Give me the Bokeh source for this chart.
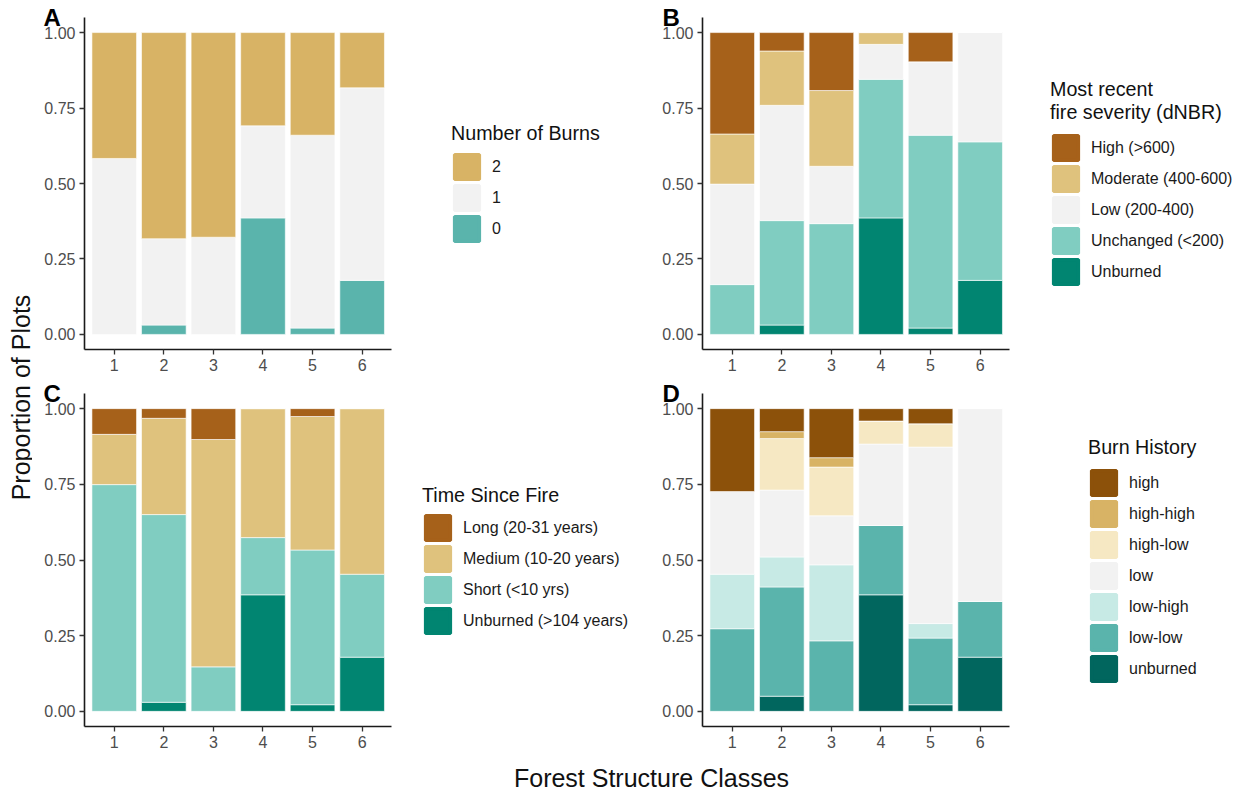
from bokeh.plotting import figure
from bokeh.models import (ColumnDataSource, Range1d, FixedTicker, PrintfTickFormatter,
                          Legend, LegendItem, Label)
from bokeh.core.properties import value
from bokeh.layouts import row, column
from bokeh.embed import file_html
from bokeh.resources import INLINE
import math

FONT = "Liberation Sans"

# Forest structure classes (x categories)
classes = [1, 2, 3, 4, 5, 6]

# A: number of burns (proportion of plots per class)
burns_labels = ["0", "1", "2"]
burns_0 = [0.000, 0.031, 0.000, 0.386, 0.021, 0.179]
burns_1 = [0.583, 0.286, 0.322, 0.305, 0.639, 0.638]
burns_2 = [0.417, 0.683, 0.678, 0.309, 0.340, 0.183]
burns_colors = ["#5AB4AC", "#F2F2F2", "#D8B365"]

# B: most recent fire severity (dNBR)
sev_labels = ["Unburned", "Unchanged (<200)", "Low (200-400)", "Moderate (400-600)", "High (>600)"]
sev_unburned = [0.000, 0.031, 0.000, 0.386, 0.021, 0.179]
sev_unchanged = [0.165, 0.346, 0.367, 0.459, 0.639, 0.459]
sev_low = [0.333, 0.382, 0.190, 0.116, 0.243, 0.362]
sev_moderate = [0.166, 0.180, 0.251, 0.039, 0.000, 0.000]
sev_high = [0.336, 0.061, 0.192, 0.000, 0.097, 0.000]
sev_colors = ["#018571", "#80CDC1", "#F2F2F2", "#DFC27D", "#A6611A"]

# C: time since fire
tsf_labels = ["Unburned (>104 years)", "Short (<10 yrs)", "Medium (10-20 years)", "Long (20-31 years)"]
tsf_unburned = [0.000, 0.030, 0.000, 0.385, 0.022, 0.179]
tsf_short = [0.749, 0.620, 0.147, 0.189, 0.511, 0.274]
tsf_medium = [0.166, 0.318, 0.751, 0.426, 0.441, 0.547]
tsf_long = [0.085, 0.032, 0.102, 0.000, 0.026, 0.000]
tsf_colors = ["#018571", "#80CDC1", "#DFC27D", "#A6611A"]

# D: burn history
bh_labels = ["unburned", "low-low", "low-high", "low", "high-low", "high-high", "high"]
bh_unburned = [0.000, 0.050, 0.000, 0.385, 0.022, 0.179]
bh_low_low = [0.273, 0.361, 0.233, 0.229, 0.220, 0.184]
bh_low_high = [0.180, 0.099, 0.251, 0.000, 0.048, 0.000]
bh_low = [0.273, 0.221, 0.162, 0.269, 0.583, 0.637]
bh_high_low = [0.000, 0.170, 0.161, 0.076, 0.077, 0.000]
bh_high_high = [0.000, 0.023, 0.031, 0.000, 0.000, 0.000]
bh_high = [0.274, 0.076, 0.162, 0.041, 0.050, 0.000]
bh_colors = ["#01665E", "#5AB4AC", "#C7EAE5", "#F2F2F2", "#F6E8C3", "#D8B365", "#8C510A"]

y_ticks = [0, 0.25, 0.5, 0.75, 1.0]
X_LO, X_HI = 0.4, 6.6      # visible extent of the class axis
Y_LO, Y_HI = -0.05, 1.05
BAR_AREA_PX = 307.4        # pixel width of the bar area of each panel


def make_panel(tag, tag_offset, labels, series, colors, legend_title, legend_xy, title_gap,
               width, height, left, top, bottom):
    # the frame runs to the right edge so the legend can sit inside it;
    # the x range is widened to keep the bar area at BAR_AREA_PX
    frame_w = width - left
    x_end = X_LO + (X_HI - X_LO) * frame_w / BAR_AREA_PX
    p = figure(width=width, height=height,
               x_range=Range1d(X_LO, x_end), y_range=Range1d(Y_LO, Y_HI),
               output_backend="svg", toolbar_location=None,
               min_border_left=left, min_border_right=0,
               min_border_top=top, min_border_bottom=bottom)
    p.outline_line_color = None
    p.background_fill_color = "white"
    p.border_fill_color = "white"
    p.grid.visible = False

    keys = ["s%d" % i for i in range(len(series))]
    data = {"x": classes}
    for k, v in zip(keys, series):
        data[k] = v
    src = ColumnDataSource(data)
    p.vbar_stack(keys, x="x", width=0.9, source=src,
                 fill_color=colors, line_color="white", line_width=0.6)

    for ax in (p.xaxis[0], p.yaxis[0]):
        ax.axis_line_color = "#1a1a1a"
        ax.axis_line_width = 1.6
        ax.major_tick_line_color = "#333333"
        ax.major_tick_line_width = 1.3
        ax.major_tick_in = 0
        ax.major_tick_out = 5
        ax.minor_tick_line_color = None
        ax.major_label_text_font = FONT
        ax.major_label_text_font_size = "16px"
        ax.major_label_text_color = "#4D4D4D"
        ax.major_label_standoff = 4
    p.xaxis.bounds = (X_LO, X_HI)
    p.xaxis.ticker = FixedTicker(ticks=classes)
    p.yaxis.ticker = FixedTicker(ticks=y_ticks)
    p.yaxis.formatter = PrintfTickFormatter(format="%.2f")

    # panel tag as a left-aligned title pulled up against the frame
    p.title.text = tag
    p.title.align = "left"
    p.title.offset = tag_offset
    p.title.standoff = -27
    p.title.text_font = FONT
    p.title.text_font_size = "24px"
    p.title.text_font_style = "bold"
    p.title.text_color = "black"

    # legend swatches: hidden bar renderers with a same-colour outline so the
    # swatches fill most of their slot; top of stack listed first
    items = []
    for k, lab, c in zip(keys[::-1], labels[::-1], colors[::-1]):
        swatch = p.vbar(x="x", top=k, width=0.9, source=src,
                        fill_color=c, line_color=c, line_width=3.4, visible=False)
        items.append(LegendItem(label=value(lab), renderers=[swatch]))
    leg = Legend(items=items, title=legend_title, location=legend_xy,
                 title_text_font=FONT, title_text_font_size="19.7px",
                 title_text_font_style="normal", title_text_color="#111111",
                 title_standoff=title_gap,
                 label_text_font=FONT, label_text_font_size="16px",
                 label_text_color="#1a1a1a",
                 glyph_width=31, glyph_height=31, label_standoff=10,
                 spacing=0, padding=0, margin=0,
                 inactive_fill_alpha=0,
                 border_line_color=None, background_fill_alpha=0)
    p.add_layout(leg)
    return p


def text_strip(width, height, txt, x, y, angle=0.0):
    s = figure(width=width, height=height, x_range=Range1d(0, width), y_range=Range1d(0, height),
               output_backend="svg", toolbar_location=None,
               min_border=0, min_border_left=0, min_border_right=0,
               min_border_top=0, min_border_bottom=0)
    s.axis.visible = False
    s.grid.visible = False
    s.outline_line_color = None
    s.border_fill_color = "white"
    s.background_fill_color = "white"
    s.add_layout(Label(x=x, y=y, text=txt, angle=angle, text_font=FONT, text_font_size="25px",
                       text_color="#111111", text_align="center", text_baseline="middle"))
    return s


pA = make_panel("A", -41, burns_labels, [burns_0, burns_1, burns_2], burns_colors,
                "Number of Burns", (367, 105), 6, 608, 378, 52, 17, 29)
pB = make_panel("B", -40, sev_labels, [sev_unburned, sev_unchanged, sev_low, sev_moderate, sev_high],
                sev_colors, "Most recent\nfire severity (dNBR)", (348, 62), 8, 604, 378, 62, 17, 29)
pC = make_panel("C", -41, tsf_labels, [tsf_unburned, tsf_short, tsf_medium, tsf_long], tsf_colors,
                "Time Since Fire", (338, 90), 5, 608, 377, 52, 15, 29)
pD = make_panel("D", -40, bh_labels, [bh_unburned, bh_low_low, bh_low_high, bh_low, bh_high_low,
                                      bh_high_high, bh_high], bh_colors,
                "Burn History", (386, 42), 8, 604, 377, 62, 15, 29)

y_strip = text_strip(32, 795, "Proportion of Plots", 20, 398, angle=math.pi / 2)
x_strip = text_strip(1212, 40, "Forest Structure Classes", 619, 18)

layout = row(y_strip, column(row(pA, pB), row(pC, pD), x_strip))

open("out.html", "w").write(file_html(layout, INLINE))
